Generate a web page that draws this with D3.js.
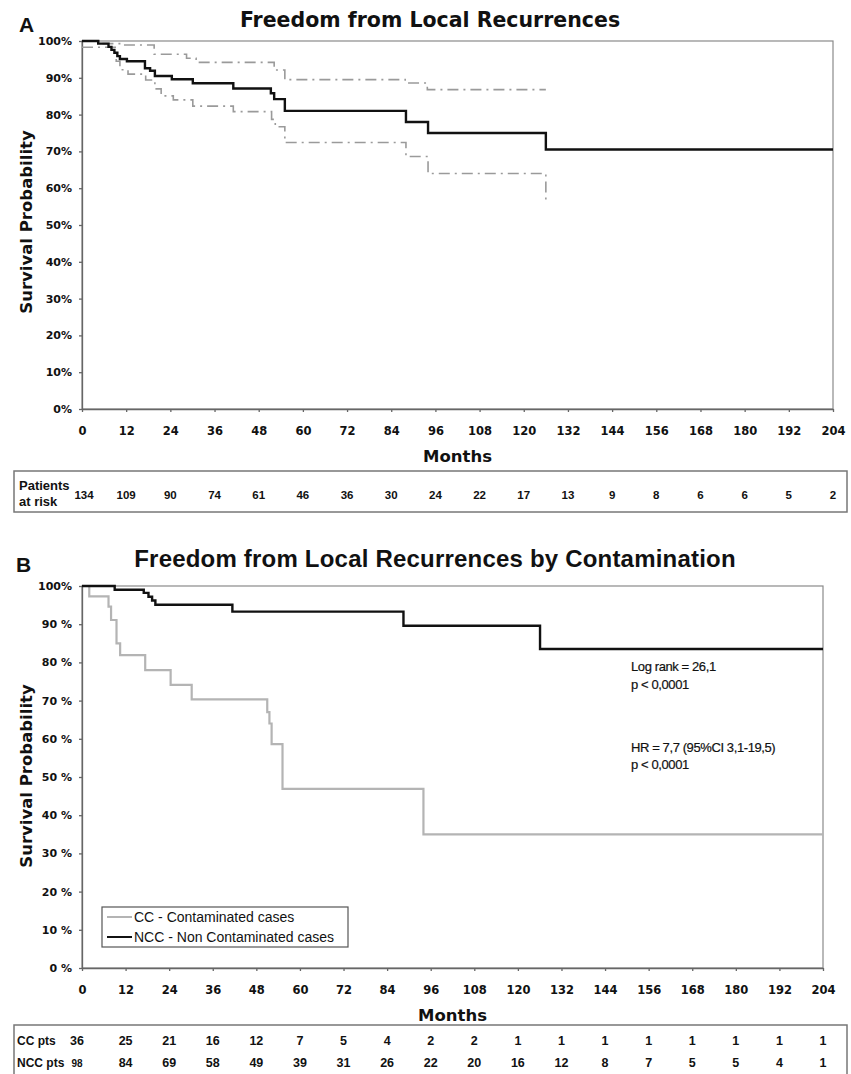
<!DOCTYPE html>
<html>
<head>
<meta charset="utf-8">
<script src="https://cdn.jsdelivr.net/npm/d3@7"></script>
<style>
body { margin: 0; background: #fff; }
</style>
</head>
<body>
<div id="chart"></div>
<script>
var width = 851,
height = 1074;

// tick values and labels
var monthTicks = d3.range(0, 205, 12);
var pctTicks = d3.range(0, 101, 10);
var pctLabelsA = ["0%", "10%", "20%", "30%", "40%", "50%", "60%", "70%", "80%", "90%", "100%"];
var pctLabelsB = ["0 %", "10 %", "20 %", "30 %", "40 %", "50 %", "60 %", "70 %", "80 %", "90 %", "100%"];

// patients at risk (one per month tick)
var riskAll = [134, 109, 90, 74, 61, 46, 36, 30, 24, 22, 17, 13, 9, 8, 6, 6, 5, 2];
var riskCC = [36, 25, 21, 16, 12, 7, 5, 4, 2, 2, 1, 1, 1, 1, 1, 1, 1, 1];
var riskNCC = [98, 84, 69, 58, 49, 39, 31, 26, 22, 20, 16, 12, 8, 7, 5, 5, 4, 1];

// panel A: overall KM curve and 95% CI (months, survival %)
var kmAllTime = [0, 4.4, 7.2, 8.0, 8.8, 9.6, 10.3, 12.2, 17.1, 18.5, 19.8, 24.4, 30.1, 41.1, 51.3, 52.2, 55.1, 88.0, 94.0, 126.0, 204];
var kmAllSurv = [100, 99.3, 98.4, 97.6, 96.8, 95.9, 95.1, 94.5, 92.6, 91.9, 90.5, 89.6, 88.5, 87.1, 85.8, 84.2, 81.0, 78.0, 75.0, 70.5, 70.5];
var ciUpTime = [0, 5.5, 11.2, 19.6, 28.4, 31.0, 52.2, 55.1, 87.8, 93.8, 126];
var ciUpSurv = [100, 99.3, 98.9, 96.4, 95.3, 94.2, 92.1, 89.5, 88.6, 86.8, 86.8];
var ciLoTime = [0, 9.3, 10.3, 12.5, 17.3, 19.8, 21.5, 24.8, 30.1, 41.1, 51.5, 52.5, 55.1, 88.0, 94.0, 126];
var ciLoSurv = [98.3, 94.5, 92.2, 91.0, 89.4, 87.0, 85.1, 84.0, 82.3, 80.8, 78.7, 76.7, 72.4, 68.6, 64.0, 56.5];

// panel B: by contamination
var ccTime = [0, 2.0, 7.3, 8.0, 9.5, 10.5, 17.4, 24.4, 30.2, 51.0, 51.6, 52.2, 55.2, 94.0, 204];
var ccSurv = [100, 97.3, 94.6, 91.1, 85.0, 81.9, 78.0, 74.1, 70.3, 67.0, 64.0, 58.6, 46.9, 35.0, 35.0];
var nccTime = [0, 9.0, 17.0, 18.3, 19.3, 20.2, 41.4, 88.5, 126.1, 204];
var nccSurv = [100, 99.0, 98.2, 97.2, 96.2, 95.1, 93.3, 89.6, 83.5, 83.5];

var tickFont = "'DejaVu Sans', sans-serif";
var arialFont = "'Liberation Sans', Arial, sans-serif";
var narrowFont = "'Liberation Sans Narrow', 'Arial Narrow', 'Liberation Sans', sans-serif";

var svg = d3.select("#chart").append("svg")
.attr("width", width)
.attr("height", height)
.style("background", "#fff");

function drawPanel(x, y, yLabels, yTitleY) {
  var g = svg.append("g");
  var x0 = x.range()[0], x1 = x.range()[1],
      yTop = y.range()[1], yBot = y.range()[0];

  // frame
  g.append("rect")
  .attr("x", x0).attr("y", yTop)
  .attr("width", x1 - x0).attr("height", yBot - yTop)
  .style("fill", "none")
  .style("stroke", "#8a8a8a")
  .style("stroke-width", 1.2);

  var xAxis = d3.axisBottom(x)
  .tickValues(monthTicks)
  .tickSize(3)
  .tickSizeOuter(0)
  .tickPadding(15);

  var ax = g.append("g")
  .attr("transform", "translate(0," + yBot + ")")
  .call(xAxis);
  ax.selectAll("text")
  .style("font", "bold 11.5px " + tickFont)
  .style("fill", "#111");

  var yAxis = d3.axisLeft(y)
  .tickValues(pctTicks)
  .tickFormat(function(d, i) { return yLabels[i]; })
  .tickSize(3)
  .tickSizeOuter(0)
  .tickPadding(7);

  var ay = g.append("g")
  .attr("transform", "translate(" + x0 + ",0)")
  .call(yAxis);
  ay.selectAll("text")
  .style("font", "bold 11px " + tickFont)
  .style("fill", "#111");

  g.selectAll(".domain, .tick line")
  .style("stroke", "#666")
  .style("stroke-width", 1.3);

  // axis titles
  g.append("text")
  .attr("x", (x0 + x1) / 2)
  .attr("y", yBot + 53)
  .attr("text-anchor", "middle")
  .style("font", "bold 16.5px " + tickFont)
  .style("fill", "#111")
  .text("Months");

  g.append("text")
  .attr("transform", "translate(32," + yTitleY + ") rotate(-90)")
  .attr("text-anchor", "middle")
  .style("font", "bold 16.5px " + tickFont)
  .style("fill", "#111")
  .text("Survival Probability");

  return g;
}

function stepLine(x, y) {
  return d3.line()
  .curve(d3.curveStepAfter)
  .x(function(d) { return x(d[0]); })
  .y(function(d) { return y(d[1]); });
}

// ---------- Panel A ----------
var xA = d3.scaleLinear().domain([0, 204]).range([82, 833]);
var yA = d3.scaleLinear().domain([0, 100]).range([409, 41]);
var gA = drawPanel(xA, yA, pctLabelsA, 222);
var lineA = stepLine(xA, yA);

[[ciUpTime, ciUpSurv], [ciLoTime, ciLoSurv]].forEach(function(s) {
  gA.append("path")
  .datum(d3.zip(s[0], s[1]))
  .attr("d", lineA)
  .style("fill", "none")
  .style("stroke", "#9a9a9a")
  .style("stroke-width", 1.6)
  .style("stroke-dasharray", "11,5,2,5");
});

gA.append("path")
.datum(d3.zip(kmAllTime, kmAllSurv))
.attr("d", lineA)
.style("fill", "none")
.style("stroke", "#111")
.style("stroke-width", 2.4);

svg.append("text")
.attr("x", 430).attr("y", 27)
.attr("text-anchor", "middle")
.style("font", "bold 20.5px " + tickFont)
.style("fill", "#111")
.text("Freedom from Local Recurrences");

svg.append("text")
.attr("x", 19).attr("y", 32)
.style("font", "bold 21px " + arialFont)
.style("fill", "#111")
.text("A");

// risk table A
svg.append("rect")
.attr("x", 14).attr("y", 471)
.attr("width", 833).attr("height", 41)
.style("fill", "none")
.style("stroke", "#777")
.style("stroke-width", 1.5);

svg.append("text")
.attr("x", 19).attr("y", 490)
.style("font", "bold 13px " + arialFont)
.style("fill", "#111")
.text("Patients");
svg.append("text")
.attr("x", 19).attr("y", 506)
.style("font", "bold 13px " + arialFont)
.style("fill", "#111")
.text("at risk");

svg.selectAll(".riskA")
.data(riskAll)
.enter()
.append("text")
.attr("class", "riskA")
.attr("x", function(d, i) { return xA(monthTicks[i]) + (i == 0 ? 2 : 0); })
.attr("y", 499)
.attr("text-anchor", "middle")
.style("font", "bold 11.5px " + narrowFont)
.style("fill", "#111")
.text(function(d) { return d; });

// ---------- Panel B ----------
var xB = d3.scaleLinear().domain([0, 204]).range([82, 823]);
var yB = d3.scaleLinear().domain([0, 100]).range([968, 586]);
var gB = drawPanel(xB, yB, pctLabelsB, 776);
var lineB = stepLine(xB, yB);

gB.append("path")
.datum(d3.zip(ccTime, ccSurv))
.attr("d", lineB)
.style("fill", "none")
.style("stroke", "#b4b4b4")
.style("stroke-width", 2.2);

gB.append("path")
.datum(d3.zip(nccTime, nccSurv))
.attr("d", lineB)
.style("fill", "none")
.style("stroke", "#111")
.style("stroke-width", 2.4);

svg.append("text")
.attr("x", 435).attr("y", 567)
.attr("text-anchor", "middle")
.style("font", "bold 24px " + arialFont)
.style("letter-spacing", "0.2px")
.style("fill", "#111")
.text("Freedom from Local Recurrences by Contamination");

svg.append("text")
.attr("x", 16).attr("y", 572)
.style("font", "bold 21px " + arialFont)
.style("fill", "#111")
.text("B");

// statistics
var stats = [
  {t: "Log rank = 26,1", y: 671},
  {t: "p < 0,0001", y: 689},
  {t: "HR = 7,7 (95%CI 3,1-19,5)", y: 752},
  {t: "p < 0,0001", y: 769}
];
svg.selectAll(".stat")
.data(stats)
.enter()
.append("text")
.attr("class", "stat")
.attr("x", 631)
.attr("y", function(d) { return d.y; })
.style("font", "13px " + arialFont)
.style("letter-spacing", "-0.4px")
.style("fill", "#111")
.style("stroke", "#111")
.style("stroke-width", 0.2)
.text(function(d) { return d.t; });

// legend
var legend = [
  {t: "CC - Contaminated cases", c: "#b4b4b4", y: 917},
  {t: "NCC - Non Contaminated cases", c: "#111", y: 937}
];
svg.append("rect")
.attr("x", 102).attr("y", 907)
.attr("width", 246).attr("height", 40)
.style("fill", "#fff")
.style("stroke", "#555")
.style("stroke-width", 1.2);

var lg = svg.selectAll(".leg")
.data(legend)
.enter()
.append("g")
.attr("class", "leg");
lg.append("line")
.attr("x1", 107).attr("x2", 132)
.attr("y1", function(d) { return d.y; })
.attr("y2", function(d) { return d.y; })
.style("stroke", function(d) { return d.c; })
.style("stroke-width", 2);
lg.append("text")
.attr("x", 134)
.attr("y", function(d) { return d.y + 5; })
.style("font", "14px " + arialFont)
.style("fill", "#111")
.text(function(d) { return d.t; });

// risk table B
svg.append("rect")
.attr("x", 14).attr("y", 1025)
.attr("width", 833).attr("height", 70)
.style("fill", "none")
.style("stroke", "#777")
.style("stroke-width", 1.5);

svg.append("text")
.attr("x", 17).attr("y", 1045)
.style("font", "bold 12px " + narrowFont)
.style("fill", "#111")
.text("CC pts");
svg.append("text")
.attr("x", 17).attr("y", 1067)
.style("font", "bold 12px " + narrowFont)
.style("fill", "#111")
.text("NCC pts");

[[riskCC, 1045], [riskNCC, 1067]].forEach(function(row) {
  svg.selectAll(null)
  .data(row[0])
  .enter()
  .append("text")
  .attr("x", function(d, i) { return xB(monthTicks[i]) - (i == 0 ? 5 : 0); })
  .attr("y", row[1])
  .attr("text-anchor", "middle")
  .style("font", function(d, i) { return "bold " + (i == 0 && row[1] > 1050 ? 10 : 12.5) + "px " + narrowFont; })
  .style("fill", "#111")
  .text(function(d) { return d; });
});
</script>
</body>
</html>
